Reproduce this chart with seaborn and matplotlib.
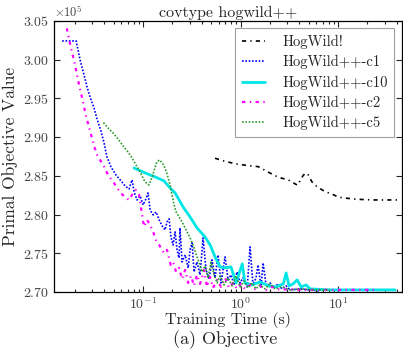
import matplotlib
matplotlib.use("Agg")
import matplotlib.pyplot as plt
import matplotlib.ticker as mticker
import seaborn as sns

# time (s) / primal objective (x1e5)
hw_t = [0.547, 0.71, 0.914, 1.20, 1.52, 1.93, 2.44, 3.09, 3.83, 4.41, 4.84,
        5.37, 6.05, 7.36, 8.62, 10.1, 12.3, 15.6, 23.0, 43.2]
hw_v = [2.8727, 2.8683, 2.8653, 2.8631, 2.8618, 2.8546, 2.8481, 2.8447, 2.8378,
        2.8511, 2.8533, 2.8425, 2.8360, 2.8295, 2.8266, 2.8223, 2.8210, 2.8197,
        2.8188, 2.8188]

c1_t = [0.0148, 0.0178, 0.0206, 0.0226, 0.0248, 0.0266, 0.0286, 0.0314, 0.0337,
        0.0370, 0.0398, 0.0426, 0.0469, 0.0527, 0.0594, 0.0653, 0.0718, 0.0770,
        0.0808, 0.0868, 0.0931, 0.100, 0.107, 0.1125, 0.118, 0.127, 0.136, 0.146,
        0.157, 0.168, 0.176, 0.185, 0.193, 0.203, 0.213, 0.223, 0.234, 0.239,
        0.251, 0.270, 0.290, 0.303, 0.318, 0.333, 0.357, 0.384, 0.412, 0.442,
        0.475, 0.509, 0.547, 0.587, 0.630, 0.693, 0.744, 0.798, 0.857, 0.920,
        0.989, 1.06, 1.17, 1.25, 1.34, 1.44, 1.51, 1.62, 1.70, 1.83, 2.01, 2.20,
        2.42, 2.66, 2.92, 3.22, 4.08, 5.16, 6.54]
c1_v = [3.0242, 3.0242, 3.0242, 2.9996, 2.9803, 2.9648, 2.9518, 2.9376, 2.9234,
        2.9079, 2.8924, 2.8744, 2.8614, 2.8511, 2.8434, 2.8369, 2.8330, 2.8447,
        2.8292, 2.8188, 2.8240, 2.8124, 2.8201, 2.8279, 2.8059, 2.7995, 2.8033,
        2.7930, 2.7852, 2.7801, 2.7904, 2.7943, 2.7710, 2.7607, 2.7775, 2.7543,
        2.7439, 2.7827, 2.7387, 2.7478, 2.7310, 2.7543, 2.7633, 2.7258, 2.7387,
        2.7220, 2.7697, 2.7284, 2.7168, 2.7413, 2.7181, 2.7478, 2.7116, 2.7452,
        2.7155, 2.7220, 2.7090, 2.7258, 2.7116, 2.7181, 2.7065, 2.7581, 2.7090,
        2.7181, 2.7349, 2.7065, 2.7375, 2.7078, 2.7116, 2.7052, 2.7103, 2.7039,
        2.7078, 2.7026, 2.7039, 2.7026, 2.7013]

c10_t = [0.0808, 0.105, 0.133, 0.164, 0.189, 0.213, 0.257, 0.303, 0.357, 0.432,
         0.487, 0.547, 0.616, 0.693, 0.798, 0.899, 1.04, 1.11, 1.31, 1.58, 1.93,
         2.32, 2.74, 2.93, 3.14, 3.45, 3.80, 4.18, 4.70, 5.16, 8.28, 16.8, 38.4]
c10_v = [2.8601, 2.8537, 2.8485, 2.8434, 2.8343, 2.8279, 2.8098, 2.7969, 2.7827,
         2.7710, 2.7607, 2.7452, 2.7323, 2.7310, 2.7323, 2.7116, 2.7362, 2.7116,
         2.7090, 2.7129, 2.7078, 2.7065, 2.7103, 2.7245, 2.7078, 2.7103, 2.7155,
         2.7065, 2.7090, 2.7039, 2.7026, 2.7026, 2.7026]

c2_t = [0.0165, 0.0174, 0.0184, 0.0196, 0.0207, 0.0217, 0.0230, 0.0244, 0.0258,
        0.0275, 0.0295, 0.0314, 0.0340, 0.0391, 0.0437, 0.0504, 0.0591, 0.0653,
        0.0718, 0.0770, 0.0841, 0.0910, 0.0984, 0.102, 0.110, 0.115, 0.125, 0.135,
        0.146, 0.164, 0.176, 0.192, 0.203, 0.218, 0.234, 0.251, 0.270, 0.290,
        0.310, 0.333, 0.357, 0.384, 0.422, 0.452, 0.487, 0.521, 0.574, 0.630,
        0.693, 0.762, 0.838, 0.920, 1.01, 1.11, 1.25, 1.41, 1.58, 1.83, 2.10,
        2.54, 3.22, 4.08, 6.54, 10.5, 16.8, 25.8]
c2_v = [3.0406, 3.0268, 3.0125, 2.9987, 2.9845, 2.9716, 2.9574, 2.9437, 2.9286,
        2.9157, 2.9015, 2.8886, 2.8756, 2.8640, 2.8511, 2.8404, 2.8275, 2.8227,
        2.8188, 2.8253, 2.8317, 2.8253, 2.7973, 2.7843, 2.7930, 2.7887, 2.7801,
        2.7672, 2.7607, 2.7500, 2.7543, 2.7349, 2.7387, 2.7258, 2.7310, 2.7168,
        2.7284, 2.7116, 2.7207, 2.7078, 2.7220, 2.7103, 2.7284, 2.7065, 2.7194,
        2.7052, 2.7155, 2.7065, 2.7181, 2.7052, 2.7116, 2.7039, 2.7103, 2.7039,
        2.7090, 2.7039, 2.7078, 2.7026, 2.7065, 2.7026, 2.7039, 2.7026, 2.7026,
        2.7026, 2.7026, 2.7026]

c5_t = [0.0392, 0.0437, 0.0492, 0.0553, 0.0623, 0.0701, 0.0770, 0.0847, 0.0931,
        0.102, 0.110, 0.115, 0.124, 0.133, 0.139, 0.147, 0.157, 0.168, 0.176,
        0.189, 0.198, 0.208, 0.218, 0.234, 0.251, 0.276, 0.303, 0.325, 0.349,
        0.374, 0.402, 0.432, 0.464, 0.498, 0.535, 0.574, 0.616, 0.677, 0.744,
        0.818, 0.899, 0.989, 1.09, 1.19, 1.31, 1.44, 1.58, 1.78, 2.01, 2.26,
        2.66, 3.22, 4.08, 5.8, 8.28]
c5_v = [2.9187, 2.9118, 2.9053, 2.8976, 2.8886, 2.8808, 2.8731, 2.8640, 2.8550,
        2.8447, 2.8395, 2.8382, 2.8485, 2.8614, 2.8679, 2.8705, 2.8666, 2.8601,
        2.8524, 2.8382, 2.8253, 2.8124, 2.8033, 2.7969, 2.7904, 2.7801, 2.7697,
        2.7607, 2.7491, 2.7387, 2.7258, 2.7336, 2.7181, 2.7387, 2.7220, 2.7116,
        2.7207, 2.7090, 2.7181, 2.7078, 2.7207, 2.7065, 2.7142, 2.7052, 2.7116,
        2.7039, 2.7090, 2.7039, 2.7103, 2.7039, 2.7065, 2.7026, 2.7039, 2.7026,
        2.7026]

series = [
    ("HogWild!", hw_t, hw_v, "black", (0, (2.5, 2.5, 0.8, 2.5)), 1.2),
    ("HogWild++-c1", c1_t, c1_v, "blue", (0, (1, 1)), 1.2),
    ("HogWild++-c10", c10_t, c10_v, "#00e5e5", "-", 2.0),
    ("HogWild++-c2", c2_t, c2_v, "magenta", (0, (1.5, 2, 0.6, 2)), 1.6),
    ("HogWild++-c5", c5_t, c5_v, "#2e9a2e", (0, (1, 1)), 1.2),
]

sns.set_style("ticks")
plt.rcParams["font.family"] = ["cmr10", "DejaVu Serif"]
plt.rcParams["mathtext.fontset"] = "cm"
plt.rcParams["axes.formatter.use_mathtext"] = True

fig = plt.figure(figsize=(4.03, 3.5), dpi=100)
ax = fig.add_axes([0.134, 0.166, 0.863, 0.774])

for label, t, v, color, ls, lw in series:
    sns.lineplot(x=t, y=[val * 1e5 for val in v], ax=ax, color=color,
                 linestyle=ls, linewidth=lw, label=label,
                 estimator=None, sort=False)

ax.set_xscale("log")
ax.set_xlim(0.0122, 45)
ax.set_ylim(2.70e5, 3.05e5)
ax.set_yticks([2.70e5, 2.75e5, 2.80e5, 2.85e5, 2.90e5, 2.95e5, 3.00e5, 3.05e5])
fmt = mticker.ScalarFormatter(useMathText=True, useOffset=False)
fmt.set_powerlimits((0, 0))
ax.yaxis.set_major_formatter(fmt)
ax.yaxis.get_offset_text().set_fontsize(9)
ax.yaxis.get_offset_text().set_color("#444444")

ax.tick_params(which="both", direction="in", top=True, right=True,
               labelsize=10, labelcolor="#444444", width=0.8)
ax.tick_params(axis="x", pad=3)
ax.tick_params(which="major", length=4)
ax.tick_params(which="minor", length=2)
for s in ax.spines.values():
    s.set_linewidth(0.9)
    s.set_color("black")

ax.set_title("covtype hogwild++", fontsize=11.5, pad=3)
ax.set_ylabel("Primal Objective Value", fontsize=12.5, labelpad=4)
ax.set_xlabel("Training Time (s)", fontsize=11.5)
ax.xaxis.set_label_coords(0.5, -0.076)
fig.text(0.5585, 0.002, "(a) Objective", fontsize=13, ha="center", va="bottom")

leg = ax.legend(loc="upper right", fontsize=10.5, frameon=True, fancybox=False,
                handlelength=1.6, handletextpad=1.2, borderaxespad=0.5,
                labelspacing=0.42, borderpad=0.45)
leg.get_frame().set_edgecolor("#888888")
leg.get_frame().set_linewidth(0.8)

fig.savefig("out.png", dpi=100)
